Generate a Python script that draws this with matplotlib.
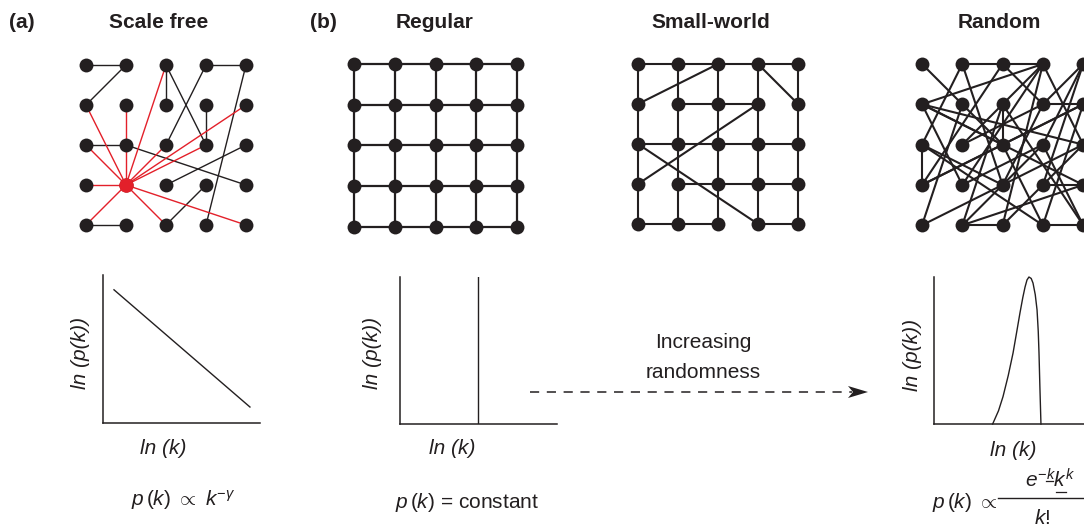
import numpy as np
import matplotlib.pyplot as plt
from matplotlib.patches import Polygon

plt.rcParams['font.family'] = ['Liberation Sans', 'DejaVu Sans']
plt.rcParams['mathtext.fontset'] = 'custom'
plt.rcParams['mathtext.rm'] = 'Liberation Sans'
plt.rcParams['mathtext.it'] = 'Liberation Sans:italic'
plt.rcParams['mathtext.bf'] = 'Liberation Sans:bold'

INK = '#231f20'
RED = '#e3202a'

# ---- network data: nodes on a 5x5 grid, edges as ((col,row),(col,row)) ----
grid_cols = [0, 1, 2, 3, 4]
grid_rows = [0, 1, 2, 3, 4]

sf_black_edges = [((0, 0), (1, 0)), ((1, 0), (0, 1)), ((2, 0), (2, 1)), ((2, 0), (3, 2)),
                  ((3, 0), (4, 0)), ((3, 0), (2, 2)), ((4, 0), (3, 4)), ((3, 1), (3, 2)),
                  ((0, 2), (1, 2)), ((1, 2), (4, 3)), ((4, 2), (2, 3)), ((3, 3), (2, 4)),
                  ((0, 4), (1, 4))]
sf_hub = (1, 3)
sf_hub_targets = [(0, 1), (1, 1), (2, 0), (2, 2), (3, 2), (4, 1), (0, 2), (0, 3),
                  (0, 4), (2, 4), (4, 4)]

sw_removed = [((0, 1), (1, 1)), ((3, 1), (4, 1)), ((0, 3), (1, 3)), ((2, 4), (3, 4))]
sw_shortcuts = [((0, 1), (2, 0)), ((3, 0), (4, 1)), ((3, 1), (0, 3)), ((0, 2), (3, 4))]

rand_edges = [((0, 0), (2, 2)), ((1, 0), (2, 0)), ((2, 0), (3, 0)), ((1, 0), (0, 2)),
              ((1, 0), (2, 3)), ((2, 0), (3, 1)), ((2, 0), (0, 3)), ((3, 0), (0, 1)),
              ((3, 0), (2, 1)), ((3, 0), (1, 3)), ((3, 0), (4, 2)), ((3, 0), (2, 4)),
              ((4, 0), (3, 1)), ((4, 0), (3, 2)), ((0, 1), (4, 2)), ((0, 1), (2, 2)),
              ((0, 1), (1, 3)), ((0, 1), (4, 3)), ((1, 1), (0, 4)), ((2, 1), (2, 2)),
              ((2, 1), (1, 4)), ((2, 1), (4, 4)), ((3, 1), (4, 1)), ((3, 1), (1, 2)),
              ((4, 1), (3, 4)), ((0, 2), (0, 3)), ((0, 2), (2, 3)), ((0, 2), (3, 4)),
              ((1, 2), (2, 1)), ((2, 2), (0, 3)), ((2, 2), (4, 1)), ((2, 2), (3, 4)),
              ((3, 2), (1, 4)), ((3, 2), (4, 4)), ((4, 2), (0, 4)), ((0, 3), (4, 1)),
              ((1, 3), (3, 2)), ((2, 3), (3, 1)), ((3, 3), (4, 3)), ((3, 3), (4, 0)),
              ((1, 4), (2, 4)), ((3, 4), (4, 4)), ((4, 3), (1, 4)), ((4, 2), (2, 4))]

# ---- degree distribution curves (axes units 0..1) ----
sf_lnk = [0.07, 0.936]
sf_lnp = [0.90, 0.108]
reg_lnk = 0.497
rand_lnk = [0.391, 0.43, 0.46, 0.495, 0.527, 0.552, 0.573, 0.592, 0.607, 0.62, 0.633,
            0.648, 0.66, 0.675, 0.687, 0.695, 0.70, 0.706, 0.713]
rand_lnp = [0.0, 0.09, 0.186, 0.33, 0.483, 0.63, 0.755, 0.86, 0.932, 0.98, 1.0,
            0.99, 0.959, 0.88, 0.776, 0.63, 0.483, 0.25, 0.0]

W, H = 1084, 526
fig = plt.figure(figsize=(W / 100, H / 100), dpi=100)


def px_axes(left, top, right, bottom):
    return fig.add_axes([left / W, 1 - bottom / H, (right - left) / W, (bottom - top) / H])


def net_axes(x0, y0, s):
    ax = px_axes(x0 - 0.6 * s, y0 - 0.6 * s, x0 + 4.6 * s, y0 + 4.6 * s)
    ax.set_xlim(-0.6, 4.6)
    ax.set_ylim(4.6, -0.6)
    ax.axis('off')
    return ax


def draw_edges(ax, edges, color=INK, lw=1.5):
    for (a, b) in edges:
        ax.plot([a[0], b[0]], [a[1], b[1]], color=color, lw=lw, solid_capstyle='butt', zorder=1)


def draw_nodes(ax, size=100):
    xx, yy = np.meshgrid(grid_cols, grid_rows)
    ax.scatter(xx.ravel(), yy.ravel(), s=size, color=INK, zorder=3, linewidths=0)


def lattice():
    edges = []
    for r in grid_rows:
        for c in grid_cols[:-1]:
            edges.append(((c, r), (c + 1, r)))
    for c in grid_cols:
        for r in grid_rows[:-1]:
            edges.append(((c, r), (c, r + 1)))
    return edges


# scale free
ax = net_axes(86, 65, 40)
draw_edges(ax, sf_black_edges, lw=1.0)
draw_edges(ax, [(sf_hub, t) for t in sf_hub_targets], color=RED, lw=1.0)
draw_nodes(ax)
ax.scatter([sf_hub[0]], [sf_hub[1]], s=110, color=RED, zorder=4, linewidths=0)

# regular
ax = net_axes(354, 64, 40.75)
draw_edges(ax, lattice(), lw=1.6)
draw_nodes(ax)

# small world
ax = net_axes(638, 64, 40)
sw = [e for e in lattice() if e not in sw_removed] + sw_shortcuts
draw_edges(ax, sw, lw=1.5)
draw_nodes(ax)

# random
ax = net_axes(922, 64, 40.3)
draw_edges(ax, rand_edges, lw=1.5)
draw_nodes(ax)


# ---- degree distribution axes ----
def dist_axes(left, top, right, bottom):
    a = px_axes(left, top, right, bottom)
    a.set_xlim(0, 1)
    a.set_ylim(0, 1)
    for sp in ['top', 'right']:
        a.spines[sp].set_visible(False)
    for sp in ['left', 'bottom']:
        a.spines[sp].set_linewidth(1.1)
        a.spines[sp].set_color(INK)
    a.set_xticks([])
    a.set_yticks([])
    a.patch.set_alpha(0)
    return a


ax = dist_axes(103, 275, 260, 423)
ax.plot(sf_lnk, sf_lnp, color=INK, lw=1.0)

ax = dist_axes(400, 277, 557, 424)
ax.axvline(reg_lnk, color=INK, lw=1.0)

ax = dist_axes(934, 277, 1084, 424)
ax.plot(rand_lnk, rand_lnp, color=INK, lw=1.0, clip_on=False)

# ---- overlay for text and arrow ----
ov = fig.add_axes([0, 0, 1, 1])
ov.set_xlim(0, W)
ov.set_ylim(H, 0)
ov.axis('off')
ov.patch.set_alpha(0)

tkw = dict(ha='center', va='center', color=INK)
ov.text(22, 22, '(a)', fontsize=15, fontweight='bold', **tkw)
ov.text(323, 22, '(b)', fontsize=15, fontweight='bold', **tkw)
ov.text(159, 22, 'Scale free', fontsize=15, fontweight='bold', **tkw)
ov.text(435, 22, 'Regular', fontsize=15, fontweight='bold', **tkw)
ov.text(711, 22, 'Small-world', fontsize=15, fontweight='bold', **tkw)
ov.text(999, 22, 'Random', fontsize=15, fontweight='bold', **tkw)

for x, y in [(163, 448), (452, 448), (1013, 450)]:
    ov.text(x, y, 'ln (k)', fontsize=15, style='italic', **tkw)
for x, y in [(80, 353), (373, 353), (912, 355)]:
    ov.text(x, y, 'ln (p(k))', fontsize=15, style='italic', rotation=90, **tkw)

ov.text(183, 500, r'$p\,(k)\ \propto\ k^{-\gamma}$', fontsize=15, **tkw)
ov.text(467, 502, r'$p\,(k)$ = constant', fontsize=15, **tkw)

ov.text(703, 342, 'Increasing', fontsize=15, **tkw)
ov.text(703, 373, 'randomness', fontsize=15, **tkw)
ov.plot([530, 852], [392, 392], color=INK, lw=1.1, linestyle=(0, (6, 5)))
tip = np.array([868, 392])
ov.add_patch(Polygon(tip + np.array([[0, 0], [-20, -6], [-15, 0], [-20, 6]]), closed=True,
                     color=INK, lw=0))

# Poisson formula: numerator with underlined mean degree, fraction bar, k!
ov.text(965, 503, r'$p\,(k)\ \propto$', fontsize=15, **tkw)
ov.text(1050, 488, r'$e^{-k}k^{k}$', fontsize=15, ha='center', va='baseline', color=INK)
ov.plot([1046, 1053], [481, 481], color=INK, lw=0.9)
ov.plot([1056, 1066], [492, 492], color=INK, lw=0.9)
ov.plot([998, 1084], [498, 498], color=INK, lw=1.0)
ov.text(1042, 518, r'$k!$', fontsize=15, **tkw)

fig.savefig('out.png', dpi=100)
